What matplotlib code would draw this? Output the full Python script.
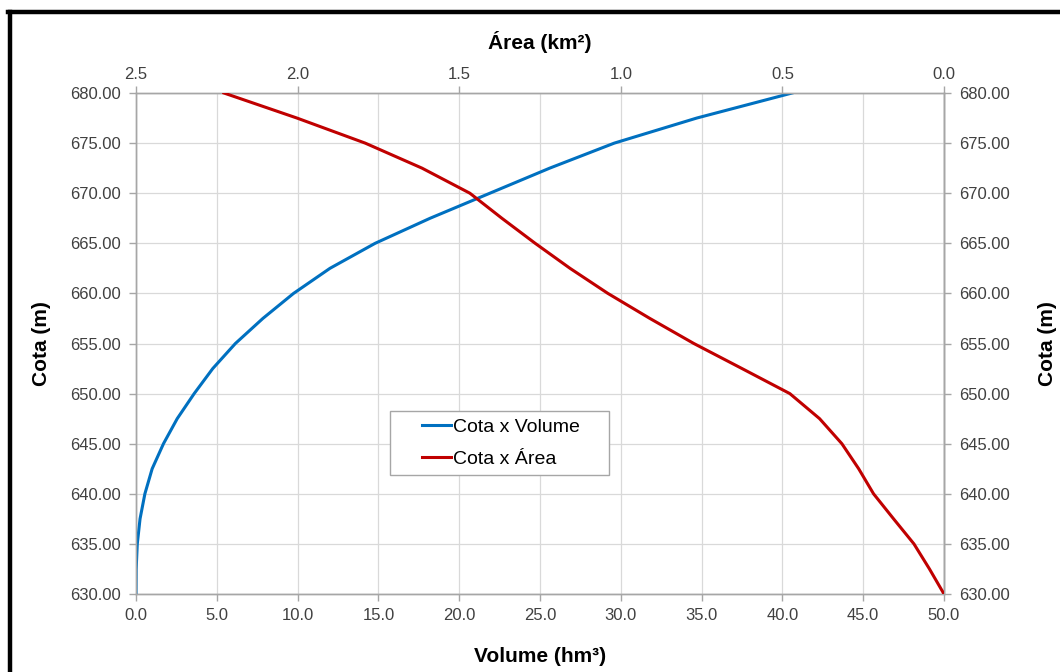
import matplotlib.pyplot as plt
from matplotlib.lines import Line2D
from matplotlib.patches import Rectangle
from matplotlib.ticker import FormatStrFormatter, MultipleLocator

plt.rcParams["font.family"] = ["Liberation Sans", "DejaVu Sans"]

# Cota (m) levels shared by both curves
cota = [630.0, 632.5, 635.0, 637.5, 640.0, 642.5, 645.0, 647.5, 650.0, 652.5,
        655.0, 657.5, 660.0, 662.5, 665.0, 667.5, 670.0, 672.5, 675.0, 677.5, 680.0]

# Volume (hm3)
volume = [0.0, 0.01, 0.08, 0.25, 0.55, 1.0, 1.7, 2.55, 3.6, 4.75,
          6.15, 7.85, 9.75, 12.0, 14.8, 18.2, 21.9, 25.6, 29.6, 34.7, 40.6]

# Area (km2)
area = [0.0, 0.045, 0.093, 0.156, 0.218, 0.264, 0.316, 0.385, 0.477, 0.625,
        0.774, 0.910, 1.040, 1.157, 1.265, 1.368, 1.467, 1.615, 1.791, 2.002, 2.228]

BLUE = "#0070C0"
RED = "#C00000"
TICK_COLOR = "#404040"
SPINE_COLOR = "#a6a6a6"

fig = plt.figure(figsize=(10.6, 6.72), dpi=100)
ax = fig.add_axes([136 / 1060, 1 - 594 / 672, 808 / 1060, 501 / 672])

line_v, = ax.plot(volume, cota, color=BLUE, lw=2.2, label="Cota x Volume", zorder=3)
ax.set_xlim(0, 50)
ax.set_ylim(630, 680)
ax.xaxis.set_major_locator(MultipleLocator(5))
ax.yaxis.set_major_locator(MultipleLocator(5))
ax.xaxis.set_major_formatter(FormatStrFormatter("%.1f"))
ax.yaxis.set_major_formatter(FormatStrFormatter("%.2f"))
ax.grid(True, color="#d9d9d9", lw=0.9)
ax.set_axisbelow(True)

# top axis: area, reversed
ax2 = ax.twiny()
line_a, = ax2.plot(area, cota, color=RED, lw=2.2, label="Cota x Área", zorder=3)
ax2.set_xlim(2.5, 0)
ax2.xaxis.set_major_locator(MultipleLocator(0.5))
ax2.xaxis.set_major_formatter(FormatStrFormatter("%.1f"))

# right axis repeats the cota scale
ax_r = ax.secondary_yaxis("right")
ax_r.yaxis.set_major_locator(MultipleLocator(5))
ax_r.yaxis.set_major_formatter(FormatStrFormatter("%.2f"))

for a in (ax, ax2, ax_r):
    for sp in a.spines.values():
        sp.set_color(SPINE_COLOR)
        sp.set_linewidth(1.0)
    a.tick_params(colors=SPINE_COLOR, labelcolor=TICK_COLOR, labelsize=12,
                  length=5, width=1.0)

ax.tick_params(axis="x", pad=5)
ax.tick_params(axis="y", pad=6)
ax_r.tick_params(axis="y", pad=6)
ax2.tick_params(axis="x", pad=3)

label_kw = dict(fontsize=15, fontweight="bold", color="black")
ax.set_xlabel("Volume (hm³)", labelpad=17, **label_kw)
ax2.set_xlabel("Área (km²)", labelpad=13, **label_kw)
ax.set_ylabel("Cota (m)", labelpad=14, **label_kw)
ax_r.set_ylabel("Cota (m)", labelpad=20, rotation=90, **label_kw)

# legend box drawn separately so it can carry Excel-style wide padding
box = Rectangle((0.3144, 0.2375), 0.271, 0.1277, transform=ax2.transAxes,
                facecolor="white", edgecolor=SPINE_COLOR, lw=1.0, zorder=4)
ax2.add_patch(box)
leg = ax2.legend(handles=[line_v, line_a], loc="center",
                 bbox_to_anchor=(0.452, 0.3014), fontsize=14, frameon=False,
                 handlelength=1.5, handletextpad=0.1, borderpad=0.2,
                 labelspacing=0.72)
leg.set_zorder(5)

# black frame (left and top edges)
fig.add_artist(Line2D([9.5 / 1060, 9.5 / 1060], [0, 1 - 11.5 / 672],
                      color="black", lw=3.2, transform=fig.transFigure))
fig.add_artist(Line2D([8 / 1060, 1], [1 - 11.5 / 672, 1 - 11.5 / 672],
                      color="black", lw=3.2, transform=fig.transFigure))

fig.savefig("out.png", dpi=100)
